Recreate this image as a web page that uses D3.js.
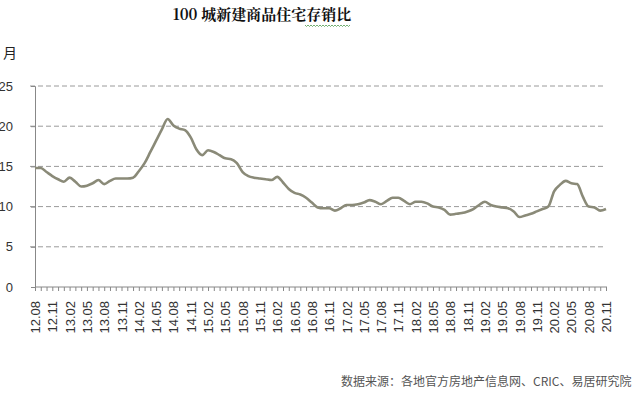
<!DOCTYPE html>
<html><head><meta charset="utf-8">
<script src="https://cdn.jsdelivr.net/npm/d3@7"></script>
<style>body{margin:0;background:#fff}svg{display:block}</style>
</head><body>
<svg id="c" width="644" height="395"></svg>
<script>
const startYear = 12, startMonth = 8;
const ratio = [14.8,14.8,14.3,13.8,13.4,13.1,13.6,13.1,12.5,12.6,
12.9,13.3,12.8,13.2,13.5,13.5,13.5,13.6,14.4,15.4,
16.8,18.2,19.6,20.9,20.1,19.7,19.5,18.6,17.1,16.4,
17.0,16.8,16.4,16.0,15.9,15.4,14.3,13.8,13.6,13.5,
13.4,13.3,13.7,13.0,12.2,11.7,11.5,11.1,10.5,9.9,
9.8,9.8,9.5,9.8,10.2,10.2,10.3,10.5,10.8,10.6,
10.3,10.7,11.1,11.1,10.7,10.3,10.6,10.6,10.4,10.0,
9.9,9.6,9.0,9.1,9.2,9.4,9.7,10.2,10.6,10.2,
10.0,9.9,9.8,9.4,8.7,8.9,9.1,9.4,9.7,10.0,
11.9,12.7,13.2,12.9,12.8,11.2,10.0,9.9,9.5,9.7];
const yTicks = [0,5,10,15,20,25];
const months = ratio.map((_, i) => {
  const m = startMonth - 1 + i;
  const y = startYear + Math.floor(m / 12);
  const mm = (m % 12) + 1;
  return y + "." + (mm < 10 ? "0" + mm : mm);
});
const labelled = months.filter((_, i) => i % 3 === 0);

const svg = d3.select("#c");
const x = d3.scalePoint().domain(months).range([35, 606]);
const y = d3.scaleLinear().domain([0, 25]).range([287, 86]);

// title
svg.append("text").attr("x", 262).attr("y", 20).attr("text-anchor", "middle")
  .attr("font-family", "'Noto Serif CJK SC','Noto Sans CJK SC',serif").attr("font-weight", "bold")
  .attr("font-size", 15).attr("fill", "#111").text("100 城新建商品住宅存销比");
// squiggle under 存销
let sq = "M305,25";
for (let k = 0; k < 15; k++) sq += " l1.5,1.5 l1.5,-1.5";
svg.append("path").attr("d", sq).attr("fill", "none").attr("stroke", "#4f9a4f").attr("stroke-width", 0.8);

svg.append("text").attr("x", 3).attr("y", 58).attr("font-family", "'Noto Sans CJK SC',sans-serif")
  .attr("font-size", 14).attr("fill", "#222").text("月");

// gridlines
svg.append("g").selectAll("line").data(yTicks.filter(d => d > 0)).join("line")
  .attr("x1", 30).attr("x2", 604).attr("y1", d => y(d)).attr("y2", d => y(d))
  .attr("stroke", "#9a9a9a").attr("stroke-width", 1).attr("stroke-dasharray", "5,3");

// y axis
const ya = svg.append("g").attr("transform", "translate(35,0)")
  .call(d3.axisLeft(y).tickValues(yTicks).tickSize(4).tickPadding(18));
ya.select(".domain").attr("stroke", "#888");
ya.selectAll(".tick line").attr("stroke", "#888");
ya.selectAll("text").attr("font-family", "'Liberation Sans',Arial,sans-serif").attr("font-size", 13).attr("fill", "#333");

// x axis
const xa = svg.append("g").attr("transform", "translate(0,287)")
  .call(d3.axisBottom(x).tickSize(4).tickSizeOuter(0).tickFormat(d => labelled.includes(d) ? d : ""));
xa.select(".domain").attr("stroke", "#888").attr("d", "M35,0H607");
xa.selectAll(".tick line").attr("stroke", "#888");
xa.selectAll("text").attr("font-family", "'Liberation Sans',Arial,sans-serif").attr("font-size", 13).attr("fill", "#333")
  .attr("transform", "rotate(-90)").attr("text-anchor", "end").attr("x", -14).attr("y", 0).attr("dy", "0.35em");

// line
svg.append("path").datum(ratio)
  .attr("d", d3.line().x((d, i) => x(months[i])).y(d => y(d)).curve(d3.curveMonotoneX))
  .attr("fill", "none").attr("stroke", "#8a8a78").attr("stroke-width", 2.6).attr("stroke-linejoin", "round");

// source
svg.append("text").attr("x", 341).attr("y", 386).attr("font-family", "'Noto Sans CJK SC',sans-serif")
  .attr("font-size", 12).attr("fill", "#555").text("数据来源：各地官方房地产信息网、CRIC、易居研究院");
</script>
</body></html>
